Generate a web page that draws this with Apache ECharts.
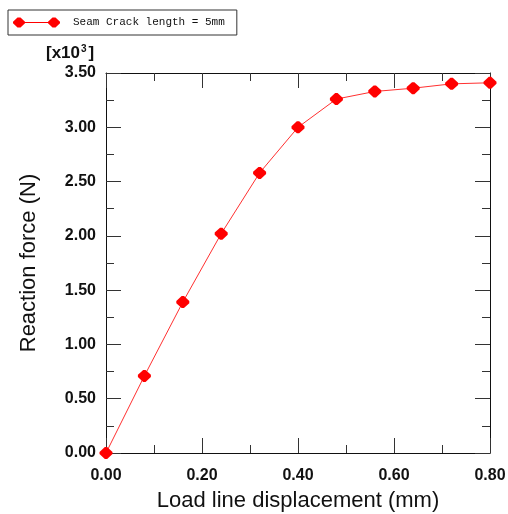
<!DOCTYPE html>
<html>
<head>
<meta charset="utf-8">
<script src="https://cdn.jsdelivr.net/npm/echarts@6/dist/echarts.min.js"></script>
<style>
  html, body { margin: 0; padding: 0; background: #fff; }
  #chart { width: 508px; height: 514px; }
</style>
</head>
<body>
<div id="chart"></div>
<script>
// Load line displacement (mm)
const displacement = [0.00, 0.08, 0.16, 0.24, 0.32, 0.40, 0.48, 0.56, 0.64, 0.72, 0.80];
// Reaction force, in units of 10^3 N
const reactionForce = [0.00, 0.71, 1.39, 2.02, 2.58, 3.00, 3.26, 3.33, 3.36, 3.40, 3.41];
const seriesName = 'Seam Crack length = 5mm';

const xTicks = { min: 0, max: 0.8, interval: 0.2 };
const yTicks = { min: 0, max: 3.5, interval: 0.5 };

const chart = echarts.init(document.getElementById('chart'), null, { renderer: 'canvas' });

const axisColor = '#111';
const labelFont = { fontFamily: 'Liberation Sans, Arial, sans-serif', fontWeight: 'bold', fontSize: 16, color: '#111' };

function frameAxis(common) {
  return Object.assign({
    type: 'value',
    axisLine: { show: true, onZero: false, lineStyle: { color: axisColor, width: 1 } },
    axisTick: { show: true, inside: true, length: 15, lineStyle: { color: '#333', width: 1 } },
    minorTick: { show: true, splitNumber: 2, length: 8, lineStyle: { color: '#333', width: 1 } },
    splitLine: { show: false }
  }, common);
}

// Blunted diamond marker
const markerPath = 'path://M0,4.5 L4.5,0 L6.5,0 L11,4.5 L11,6.5 L6.5,11 L4.5,11 L0,6.5 Z';
// Legend icon: a short line with a marker at each end
const legendIcon = 'path://M0,4.2 L4.5,0 L7.5,0 L12,4.2 L12,5.8 L7.5,10 L4.5,10 L0,5.8 Z M12,4.6 L35,4.6 L35,5.4 L12,5.4 Z M35,4.2 L39.5,0 L42.5,0 L47,4.2 L47,5.8 L42.5,10 L39.5,10 L35,5.8 Z';

const data = displacement.map((x, i) => [x, reactionForce[i]]);

chart.setOption({
  animation: false,
  backgroundColor: '#fff',
  grid: { left: 106, right: 18, top: 73, bottom: 61, containLabel: false, outerBoundsMode: 'none' },
  legend: {
    left: 8, top: 10,
    padding: [7, 12, 7, 5],
    borderColor: '#333', borderWidth: 1,
    itemWidth: 47, itemHeight: 10,
    data: [{ name: seriesName, icon: legendIcon, itemStyle: { color: '#ff0000' } }],
    textStyle: { fontFamily: 'Liberation Mono, monospace', fontSize: 11, color: '#111', padding: [0, 0, 0, 8] }
  },
  xAxis: [
    frameAxis({
      position: 'bottom',
      min: xTicks.min, max: xTicks.max, interval: xTicks.interval,
      axisLabel: Object.assign({ margin: 15, formatter: v => v.toFixed(2) }, labelFont),
      name: 'Load line displacement (mm)',
      nameLocation: 'middle', nameGap: 37,
      nameTextStyle: { fontFamily: 'Liberation Sans, Arial, sans-serif', fontSize: 22, color: '#111' }
    }),
    frameAxis({
      position: 'top',
      min: xTicks.min, max: xTicks.max, interval: xTicks.interval,
      axisLabel: { show: false }
    })
  ],
  yAxis: [
    frameAxis({
      position: 'left',
      min: yTicks.min, max: yTicks.max, interval: yTicks.interval,
      axisLabel: Object.assign({ margin: 10, formatter: v => v.toFixed(2) }, labelFont),
      name: 'Reaction force (N)',
      nameLocation: 'middle', nameGap: 66,
      nameTextStyle: { fontFamily: 'Liberation Sans, Arial, sans-serif', fontSize: 22, color: '#111' }
    }),
    frameAxis({
      position: 'right',
      min: yTicks.min, max: yTicks.max, interval: yTicks.interval,
      axisLabel: { show: false }
    })
  ],
  graphic: [{
    type: 'text',
    left: 46, top: 44,
    style: {
      text: '{b|[x10}{s|3}{b|]}',
      rich: {
        b: { fontFamily: 'Liberation Sans, Arial, sans-serif', fontWeight: 'bold', fontSize: 17, fill: '#111', verticalAlign: 'bottom' },
        s: { fontFamily: 'Liberation Sans, Arial, sans-serif', fontWeight: 'bold', fontSize: 10, fill: '#111', verticalAlign: 'top', padding: [0, 2, 8, 1] }
      }
    }
  }],
  series: [{
    name: seriesName,
    type: 'line',
    data: data,
    symbol: markerPath,
    symbolSize: [13, 12],
    itemStyle: { color: '#ff0000' },
    lineStyle: { color: '#ff3030', width: 1 },
    clip: false
  }]
});
</script>
</body>
</html>
